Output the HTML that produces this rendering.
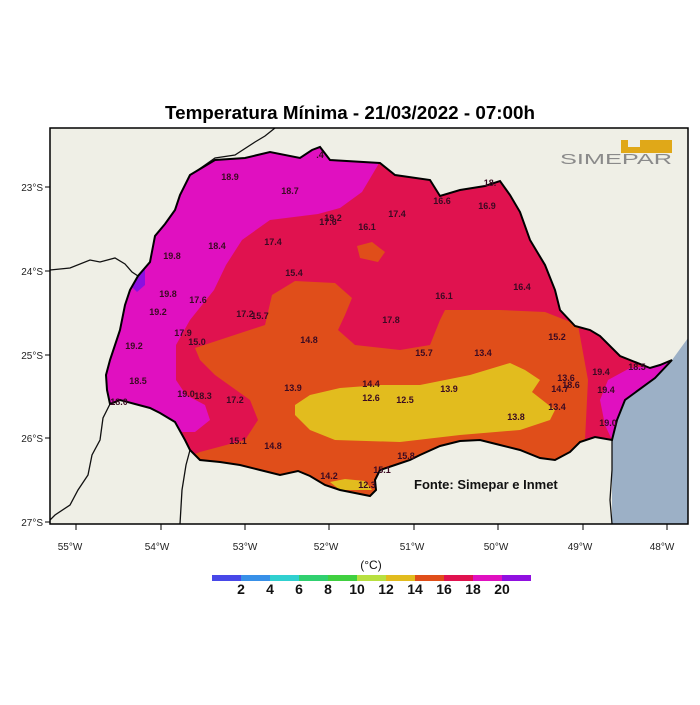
<!DOCTYPE html>
<html><head><meta charset="utf-8"><style>
body{margin:0;background:#fff;width:700px;height:700px;overflow:hidden}
svg text{font-family:"Liberation Sans",sans-serif}
</style></head><body>
<svg width="700" height="700" viewBox="0 0 700 700" xmlns="http://www.w3.org/2000/svg">
<defs>
<clipPath id="pr"><path id="prp" d="M190,175 L215,160 L245,158 L270,152 L300,158 L312,150 L320,147 L330,160 L380,163 L395,175 L430,180 L440,196 L460,190 L485,186 L500,181 L510,195 L520,212 L530,240 L545,265 L555,290 L560,310 L575,326 L590,330 L600,336 L620,356 L650,368 L660,365 L672,360 L655,378 L625,400 L617,420 L612,440 L595,437 L580,442 L570,452 L555,460 L540,458 L520,450 L500,445 L480,440 L460,441 L440,446 L420,455 L410,460 L395,465 L380,470 L375,480 L376,490 L370,496 L360,494 L340,490 L325,485 L310,476 L298,471 L280,475 L260,470 L240,465 L220,462 L200,460 L190,450 L185,440 L175,422 L160,413 L150,408 L135,404 L120,400 L110,404 L107,390 L106,375 L110,360 L115,345 L120,330 L125,305 L130,290 L138,276 L150,262 L155,236 L165,224 L175,210 L180,195 Z"/></clipPath>
<clipPath id="fr"><rect x="50" y="128" width="638" height="396"/></clipPath>
</defs>
<text x="350" y="119" text-anchor="middle" font-size="18" font-weight="bold" fill="#000" textLength="370" lengthAdjust="spacingAndGlyphs">Temperatura Mínima - 21/03/2022 - 07:00h</text>
<rect x="50" y="128" width="638" height="396" fill="#efefe6"/>
<g clip-path="url(#fr)">
<path d="M688,338 L672,360 L655,378 L625,400 L617,420 L612,440 L612,524 L688,524 Z" fill="#9cb0c6"/>
<g fill="none" stroke="#111" stroke-width="1.3">
<path d="M50,270 L70,268 L90,260 L100,262 L115,258 L125,264 L132,272 L138,276"/>
<path d="M195,172 L215,158 L235,155 L255,142 L265,136 L275,128"/>
<path d="M110,404 L103,418 L100,440 L92,455 L88,475 L78,490 L70,505 L55,515 L50,520"/>
<path d="M190,450 L186,465 L182,490 L180,524"/>
<path d="M612,440 L612,470 L610,500 L612,524"/>
</g>
<g clip-path="url(#pr)">
<rect x="50" y="128" width="638" height="396" fill="#e0124f"/>
<path d="M100,140 L385,140 L378,165 L362,192 L340,208 L318,214 L270,220 L242,240 L226,265 L214,290 L190,320 L176,345 L176,380 L186,395 L205,405 L210,420 L195,432 L100,432 Z" fill="#e010c0"/>
<path d="M195,348 L265,325 L272,295 L295,281 L335,283 L352,298 L345,315 L338,330 L355,345 L400,350 L430,345 L440,320 L445,310 L500,310 L545,312 L578,325 L588,380 L585,440 L640,470 L640,520 L150,520 L150,472 L200,452 L245,440 L258,420 L250,400 L215,375 L200,360 Z" fill="#e04e1a"/>
<path d="M295,405 L310,395 L340,388 L380,385 L420,385 L470,375 L510,363 L525,370 L540,380 L532,392 L555,410 L550,420 L520,430 L460,435 L400,442 L335,440 L310,430 L295,415 Z" fill="#e2bc1e"/>
<path d="M330,482 L345,479 L365,481 L372,490 L340,490 Z" fill="#e2bc1e"/>
<path d="M357,246 L372,242 L385,252 L378,262 L360,258 Z" fill="#e04e1a"/>
<path d="M132,270 L145,268 L145,285 L137,292 L130,285 Z" fill="#8a10e0"/>
<path d="M608,380 L630,368 L660,365 L672,360 L655,378 L625,400 L617,420 L612,440 L605,425 L600,400 Z" fill="#e010c0"/>
</g>
<use href="#prp" fill="none" stroke="#000" stroke-width="2"/>
<g font-size="9" font-weight="bold" fill="#3a0a22" text-anchor="middle">
<text x="230" y="180">18.9</text><text x="290" y="194">18.7</text><text x="333" y="221">19.2</text><text x="328" y="225">17.6</text>
<text x="367" y="230">16.1</text><text x="397" y="217">17.4</text><text x="442" y="204">16.6</text><text x="487" y="209">16.9</text>
<text x="217" y="249">18.4</text><text x="273" y="245">17.4</text><text x="172" y="259">19.8</text><text x="294" y="276">15.4</text>
<text x="168" y="297">19.8</text><text x="198" y="303">17.6</text><text x="444" y="299">16.1</text><text x="522" y="290">16.4</text>
<text x="158" y="315">19.2</text><text x="245" y="317">17.2</text><text x="260" y="319">15.7</text><text x="391" y="323">17.8</text>
<text x="183" y="336">17.9</text><text x="197" y="345">15.0</text><text x="309" y="343">14.8</text><text x="557" y="340">15.2</text>
<text x="424" y="356">15.7</text><text x="483" y="356">13.4</text><text x="134" y="349">19.2</text><text x="138" y="384">18.5</text>
<text x="371" y="387">14.4</text><text x="293" y="391">13.9</text><text x="449" y="392">13.9</text><text x="601" y="375">19.4</text>
<text x="566" y="381">13.6</text><text x="560" y="392">14.7</text><text x="571" y="388">18.6</text><text x="186" y="397">19.0</text>
<text x="203" y="399">18.3</text><text x="235" y="403">17.2</text><text x="371" y="401">12.6</text><text x="405" y="403">12.5</text>
<text x="557" y="410">13.4</text><text x="606" y="393">19.4</text><text x="119" y="405">18.0</text><text x="516" y="420">13.8</text>
<text x="608" y="426">19.0</text><text x="238" y="444">15.1</text><text x="273" y="449">14.8</text><text x="406" y="459">15.8</text>
<text x="382" y="473">15.1</text><text x="329" y="479">14.2</text><text x="367" y="488">12.3</text><text x="320" y="158">.4</text>
<text x="490" y="186">18.</text><text x="637" y="370">18.5</text>
</g>
<text x="414" y="489" font-size="13" font-weight="bold" fill="#111">Fonte: Simepar e Inmet</text>
<g fill="#e0a818">
<rect x="621" y="140" width="7" height="13"/><rect x="621" y="147" width="51" height="6"/><rect x="640" y="140" width="32" height="13"/>
</g>
<rect x="628" y="140" width="12" height="7" fill="#efefe6"/>
<text x="560" y="164" font-size="15" fill="#8a8a8a" textLength="112" lengthAdjust="spacingAndGlyphs">SIMEPAR</text>
</g>
<rect x="50" y="128" width="638" height="396" fill="none" stroke="#000" stroke-width="1.5"/>
<g stroke="#000" stroke-width="1">
<line x1="45" y1="187" x2="50" y2="187"/><line x1="45" y1="271" x2="50" y2="271"/><line x1="45" y1="355" x2="50" y2="355"/><line x1="45" y1="438" x2="50" y2="438"/><line x1="45" y1="522" x2="50" y2="522"/>
<line x1="76" y1="524" x2="76" y2="530"/><line x1="161" y1="524" x2="161" y2="530"/><line x1="245" y1="524" x2="245" y2="530"/><line x1="329" y1="524" x2="329" y2="530"/><line x1="414" y1="524" x2="414" y2="530"/><line x1="498" y1="524" x2="498" y2="530"/><line x1="583" y1="524" x2="583" y2="530"/><line x1="667" y1="524" x2="667" y2="530"/>
</g>
<g font-size="10" fill="#222" text-anchor="end">
<text x="43" y="191">23°S</text><text x="43" y="275">24°S</text><text x="43" y="359">25°S</text><text x="43" y="442">26°S</text><text x="43" y="526">27°S</text>
</g>
<g font-size="10" fill="#222" text-anchor="middle">
<text x="70" y="550">55°W</text><text x="157" y="550">54°W</text><text x="245" y="550">53°W</text><text x="326" y="550">52°W</text><text x="412" y="550">51°W</text><text x="496" y="550">50°W</text><text x="580" y="550">49°W</text><text x="662" y="550">48°W</text>
</g>
<text x="371" y="569" font-size="12" fill="#111" text-anchor="middle">(°C)</text>
<g>
<rect x="212" y="575" width="29" height="6" fill="#4848e8"/><rect x="241" y="575" width="29" height="6" fill="#3890e8"/>
<rect x="270" y="575" width="29" height="6" fill="#30d0d0"/><rect x="299" y="575" width="29" height="6" fill="#30d070"/>
<rect x="328" y="575" width="29" height="6" fill="#40d040"/><rect x="357" y="575" width="29" height="6" fill="#b8e040"/>
<rect x="386" y="575" width="29" height="6" fill="#e2bc1e"/><rect x="415" y="575" width="29" height="6" fill="#e04e1a"/>
<rect x="444" y="575" width="29" height="6" fill="#e0124f"/><rect x="473" y="575" width="29" height="6" fill="#e010c0"/>
<rect x="502" y="575" width="29" height="6" fill="#9010e0"/>
</g>
<g font-size="14" font-weight="bold" fill="#111" text-anchor="middle">
<text x="241" y="594">2</text><text x="270" y="594">4</text><text x="299" y="594">6</text><text x="328" y="594">8</text><text x="357" y="594">10</text><text x="386" y="594">12</text><text x="415" y="594">14</text><text x="444" y="594">16</text><text x="473" y="594">18</text><text x="502" y="594">20</text>
</g>
</svg>
</body></html>
